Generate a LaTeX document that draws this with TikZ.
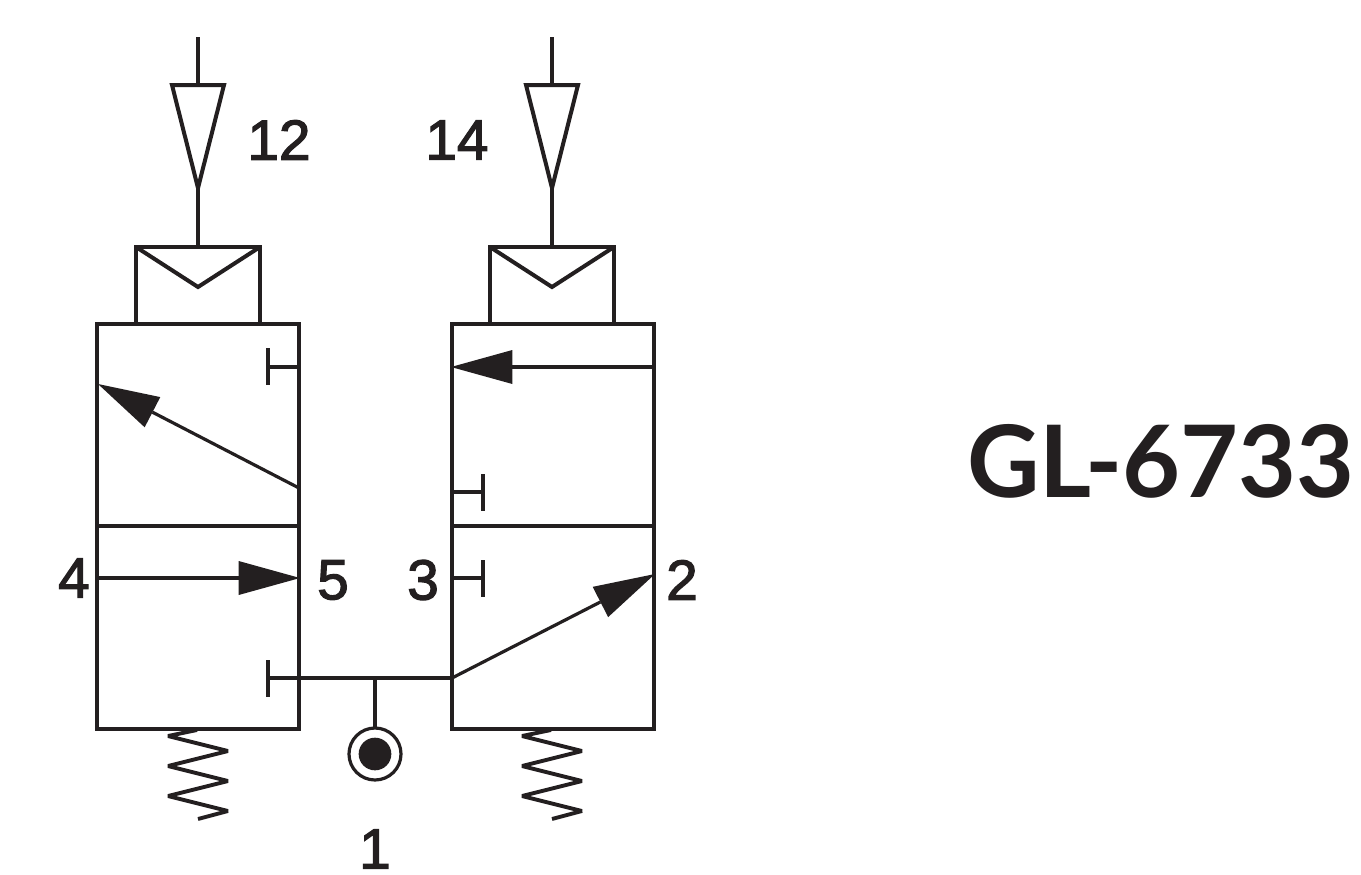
\documentclass[tikz,border=0pt]{standalone}
\usepackage{fontspec}
\setmainfont[FakeBold=2.2]{Liberation Sans}
\newfontfamily\titlefont{Lato}
\usetikzlibrary{arrows.meta}
\definecolor{ink}{HTML}{231F20}
\tikzset{
  every path/.style={line join=miter},
  heavy/.style={draw=ink,line width=2.8pt},
  thin line/.style={draw=ink,line width=2.4pt},
  pilotline/.style={draw=ink,line width=3pt},
  flow/.style={draw=ink,line width=2.4pt,-{Triangle[length=46pt,width=25.5pt,line width=0pt,fill=ink]}},
  portlabel/.style={text=ink,inner sep=0pt,font=\fontsize{42.5}{42.5}\selectfont},
  coil/.style={draw=ink,line width=2.9pt,line join=bevel}
}
\newcommand{\pilot}[2]{%
  % #1 prefix, #2 centre x
  \coordinate (#1top) at (#2,37);
  \coordinate (#1ta) at (#2-26,85);
  \coordinate (#1tb) at (#2+26,85);
  \coordinate (#1tc) at (#2,85);
  \coordinate (#1tip) at (#2,188);
  \coordinate (#1boxm) at (#2,247);
  \coordinate (#1boxa) at (#2-62,247);
  \coordinate (#1boxb) at (#2+62,247);
  \coordinate (#1boxc) at (#2+62,324);
  \coordinate (#1boxd) at (#2-62,324);
  \coordinate (#1vee) at (#2,287);
  \draw[pilotline] (#1top) -- (#1tc);
  \draw[pilotline] (#1ta) -- (#1tb) -- (#1tip) -- cycle;
  \draw[pilotline] (#1tip) -- (#1boxm);
  \draw[pilotline] (#1boxd) -- (#1boxa) -- (#1boxb) -- (#1boxc);
  \draw[pilotline] (#1boxa) -- (#1vee) -- (#1boxb);
  \draw[coil] (#2-1,730) -- (#2-30,736) -- (#2+30,751) -- (#2-30,766) -- (#2+30,781) -- (#2-30,796) -- (#2+30,811) -- (#2,819);
}
\begin{document}
\begin{tikzpicture}[x=0.75pt,y=-0.75pt]
\useasboundingbox (0,0) rectangle (1361,875);
% valve bodies
\coordinate (La) at (97,324); \coordinate (Lb) at (299,324);
\coordinate (Lc) at (299,729); \coordinate (Ld) at (97,729);
\coordinate (Ra) at (452,324); \coordinate (Rb) at (654,324);
\coordinate (Rc) at (654,729); \coordinate (Rd) at (452,729);
\draw[heavy] (La) -- (Lb) -- (Lc) -- (Ld) -- cycle;
\draw[heavy] (Ra) -- (Rb) -- (Rc) -- (Rd) -- cycle;
\coordinate (Lm1) at (97,526); \coordinate (Lm2) at (299,526);
\coordinate (Rm1) at (452,526); \coordinate (Rm2) at (654,526);
\draw[thin line] (Lm1) -- (Lm2);
\draw[thin line] (Rm1) -- (Rm2);
\pilot{A}{198}
\pilot{B}{552}
% left valve paths
\coordinate (a1s) at (299,488); \coordinate (a1e) at (98,384);
\draw[flow] (a1s) -- (a1e);
\coordinate (a2s) at (99,578); \coordinate (a2e) at (300,578);
\draw[flow] (a2s) -- (a2e);
% right valve paths
\coordinate (a3s) at (654,367); \coordinate (a3e) at (451,367);
\draw[flow] (a3s) -- (a3e);
\coordinate (a4s) at (452,678); \coordinate (a4e) at (655,574);
\draw[flow] (a4s) -- (a4e);
% blocked ports
\coordinate (t1) at (268,367); \coordinate (t1e) at (299,367);
\draw[thin line] (t1) -- (t1e); \draw[thin line] (268,348) -- (268,385);
\coordinate (t2) at (268,678);
\draw[heavy] (t2) -- (a4s); \draw[thin line] (268,660) -- (268,697);
\coordinate (t3) at (483,492); \coordinate (t3e) at (452,492);
\draw[thin line] (t3) -- (t3e); \draw[thin line] (483,474) -- (483,511);
\coordinate (t4) at (483,578); \coordinate (t4e) at (452,578);
\draw[thin line] (t4) -- (t4e); \draw[thin line] (483,560) -- (483,597);
% supply
\coordinate (j) at (375,678);
\node[circle,draw=ink,line width=2.4pt,minimum size=39pt,inner sep=0pt,outer sep=0pt] (supply) at (375,754) {};
\node[circle,fill=ink,minimum size=24.5pt,inner sep=0pt] (dot) at (375,754) {};
\draw[thin line] (j) -- (supply.north);
% labels
\node[portlabel] (l12) at (279,140) {12};
\node[portlabel] (l14) at (457,140) {14};
\node[portlabel] (l4) at (74,578) {4};
\node[portlabel] (l5) at (333,580) {5};
\node[portlabel] (l3) at (423,580) {3};
\node[portlabel] (l2) at (682,580) {2};
\node[portlabel] (l1) at (375,849) {1};
\node[text=ink,inner sep=0pt,font=\titlefont\bfseries\fontsize{75}{75}\selectfont] (title) at (1161,461) {GL-6733};
\end{tikzpicture}
\end{document}
